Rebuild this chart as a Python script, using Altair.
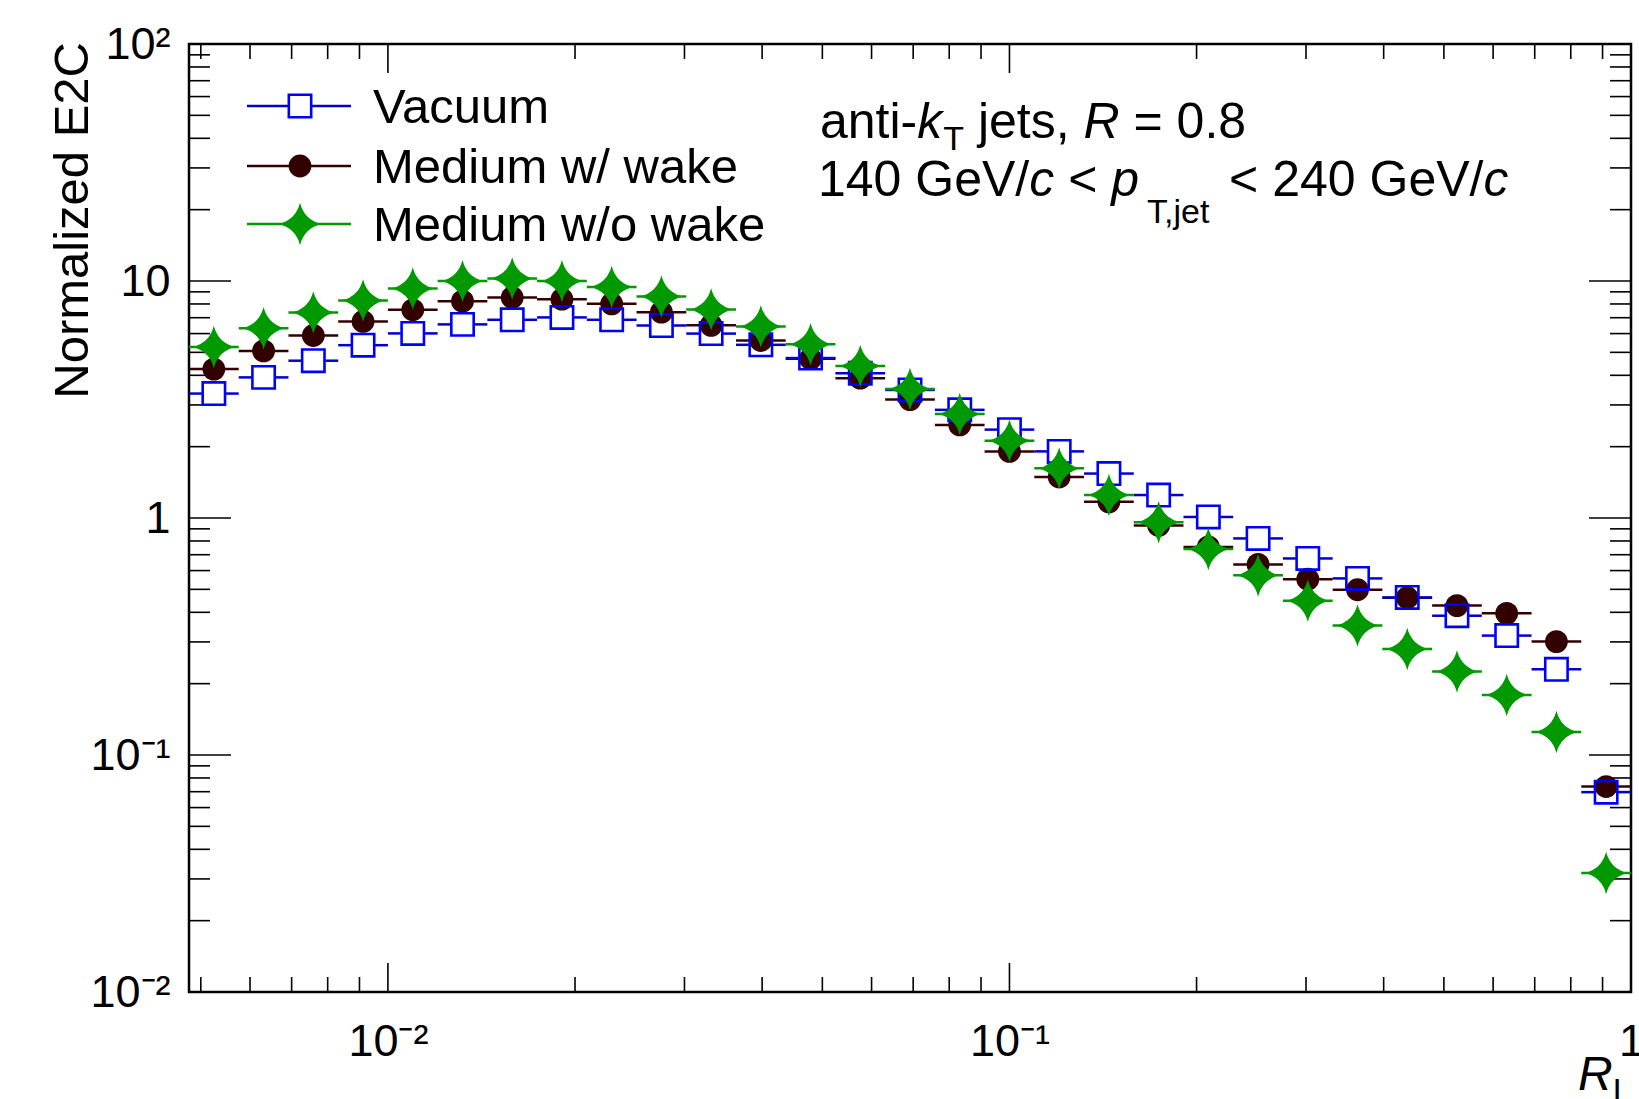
import math
import altair as alt
import pandas as pd

# ---------------- data ----------------
bin_edges = [0.004786, 0.005754, 0.006918, 0.008318, 0.01, 0.012023, 0.014454,
             0.017378, 0.020893, 0.025119, 0.030200, 0.036308, 0.043652, 0.052481,
             0.063096, 0.075858, 0.091201, 0.10965, 0.13183, 0.15849, 0.19055,
             0.22909, 0.27542, 0.33113, 0.39811, 0.47863, 0.57544, 0.69183,
             0.83176, 1.0]

vacuum = [3.35, 3.92, 4.61, 5.36, 6.01, 6.56, 6.86, 7.02, 6.86, 6.49, 6.0, 5.38,
          4.73, 4.08, 3.47, 2.86, 2.36, 1.91, 1.54, 1.25, 1.01, 0.82, 0.675,
          0.556, 0.462, 0.387, 0.319, 0.230, 0.0697]
wake = [4.25, 5.07, 5.89, 6.75, 7.56, 8.22, 8.52, 8.38, 8.01, 7.39, 6.5, 5.61,
        4.70, 3.89, 3.16, 2.47, 1.91, 1.49, 1.17, 0.93, 0.755, 0.637, 0.552,
        0.498, 0.461, 0.427, 0.396, 0.301, 0.0736]
nowake = [5.27, 6.32, 7.37, 8.28, 9.29, 9.99, 10.25, 9.99, 9.44, 8.60, 7.58,
          6.43, 5.41, 4.38, 3.50, 2.75, 2.12, 1.62, 1.25, 0.96, 0.74, 0.573,
          0.448, 0.352, 0.280, 0.225, 0.179, 0.125, 0.0318]

series_names = ["Vacuum", "Medium w/ wake", "Medium w/o wake"]

y_major = [0.01, 0.1, 1, 10, 100]
y_minor = [m * d for d in [0.01, 0.1, 1, 10] for m in range(2, 10)]
x_major = [0.01, 0.1, 1]
x_minor = [0.005, 0.006, 0.007, 0.008, 0.009,
           0.02, 0.03, 0.04, 0.05, 0.06, 0.07, 0.08, 0.09,
           0.2, 0.3, 0.4, 0.5, 0.6, 0.7, 0.8, 0.9]

# ---------------- styling ----------------
FONT = "Liberation Sans"
W, H = 1442, 948
BLUE, BLUE_LINE = "#0000ff", "#0000cc"
BROWN = "#330000"
GREEN = "#009900"
STAR = "M0,-1 Q0.2,-0.2 1,0 Q0.2,0.2 0,1 Q-0.2,0.2 -1,0 Q-0.2,-0.2 0,-1 Z"
STAR_SIZE = 1800

rows = []
for name, vals in zip(series_names, [vacuum, wake, nowake]):
    for i, v in enumerate(vals):
        lo, hi = bin_edges[i], bin_edges[i + 1]
        rows.append({"series": name, "lo": lo, "hi": hi,
                     "xc": math.sqrt(lo * hi), "y": v})
df = pd.DataFrame(rows)

xs = alt.Scale(type="log", domain=[bin_edges[0], bin_edges[-1]], nice=False)
ys = alt.Scale(type="log", domain=[0.01, 100], nice=False)

x_axis = alt.Axis(values=x_major, grid=False, ticks=False, domain=False, title=None,
                  labelFont=FONT, labelFontSize=45, labelColor="black",
                  labelPadding=27, labelFlush=False, labelOverlap=False,
                  labelExpr="datum.value < 0.05 ? '10⁻²' : datum.value < 0.5 ? '10⁻¹' : '1'")
y_axis = alt.Axis(values=y_major, grid=False, ticks=False, domain=False, title=None,
                  labelFont=FONT, labelFontSize=45, labelColor="black",
                  labelPadding=19, labelFlush=False, labelOverlap=False,
                  labelExpr="datum.value > 50 ? '10²' : datum.value > 5 ? '10' : datum.value > 0.5 ? '1' : datum.value > 0.05 ? '10⁻¹' : '10⁻²'")


def X(f):
    return alt.X(f"{f}:Q", scale=xs, axis=x_axis, title=None)


def Yf(f):
    return alt.Y(f"{f}:Q", scale=ys, axis=y_axis, title=None)


Y = Yf("y")

base = alt.Chart(df)


def sel(name):
    return base.transform_filter(alt.datum.series == name)


wake_line = sel("Medium w/ wake").mark_rule(color=BROWN, strokeWidth=2.5).encode(
    x=X("lo"), x2="hi:Q", y=Y)
wake_pts = sel("Medium w/ wake").mark_point(shape="circle", filled=True, color=BROWN,
                                            size=520, opacity=1).encode(x=X("xc"), y=Y)

vac_l1 = sel("Vacuum").mark_rule(color=BLUE_LINE, strokeWidth=2.5, x2Offset=-12).encode(
    x=X("lo"), x2="xc:Q", y=Y)
vac_l2 = sel("Vacuum").mark_rule(color=BLUE_LINE, strokeWidth=2.5, xOffset=12).encode(
    x=X("xc"), x2="hi:Q", y=Y)
vac_pts = sel("Vacuum").mark_point(shape="square", filled=False, stroke=BLUE,
                                   strokeWidth=2.6, size=500, opacity=1).encode(x=X("xc"), y=Y)

star_line = sel("Medium w/o wake").mark_rule(color=GREEN, strokeWidth=2.5).encode(
    x=X("lo"), x2="hi:Q", y=Y)
star_pts = sel("Medium w/o wake").mark_point(shape=STAR, filled=True, color=GREEN,
                                             size=STAR_SIZE, opacity=1).encode(x=X("xc"), y=Y)


# ---------------- inward ticks (ROOT style) ----------------
def xticks(vals, length):
    d = alt.Chart(pd.DataFrame({"v": vals}))
    bot = d.mark_rule(color="black", strokeWidth=1.6).encode(
        x=X("v"), y=alt.value(H), y2=alt.value(H - length))
    top = d.mark_rule(color="black", strokeWidth=1.6).encode(
        x=X("v"), y=alt.value(0), y2=alt.value(length))
    return [bot, top]


def yticks(vals, length):
    d = alt.Chart(pd.DataFrame({"v": vals}))
    left = d.mark_rule(color="black", strokeWidth=1.6).encode(
        y=Yf("v"), x=alt.value(0), x2=alt.value(length))
    right = d.mark_rule(color="black", strokeWidth=1.6).encode(
        y=Yf("v"), x=alt.value(W - length), x2=alt.value(W))
    return [left, right]


tick_layers = xticks(x_major, 29) + xticks(x_minor, 15) + yticks(y_major, 42) + yticks(y_minor, 21)

# ---------------- text helpers ----------------
one = alt.Chart(pd.DataFrame({"k": [0]}))
AW = {' ': 278, 'a': 556, 'n': 556, 't': 278, 'i': 222, '-': 333, 'k': 500, 'T': 611,
      'j': 222, 'e': 556, 's': 500, ',': 278, 'R': 722, '=': 584, '0': 556, '.': 278,
      '8': 556, '1': 556, '4': 556, '2': 556, 'G': 778, 'V': 667, '/': 278, 'c': 500,
      '<': 584, 'p': 556, 'L': 556}


def tw(s, fs):
    return sum(AW.get(ch, 556) for ch in s) * fs / 1000.0


def text_line(pieces, x0, y0):
    out = []
    x = x0
    for txt, style, fs, dy, gap in pieces:
        x += gap
        lead = len(txt) - len(txt.lstrip(" "))
        shown = txt.strip(" ")
        out.append(one.mark_text(text=shown, font=FONT, fontSize=fs, fontStyle=style,
                                 align="left", baseline="alphabetic", color="black").encode(
            x=alt.value(x + tw(" " * lead, fs)), y=alt.value(y0 + dy)))
        x += tw(txt, fs)
    return out


FS = 50
SUB = 34
ann = []
ann += text_line([("anti-", "normal", FS, 0, 0), ("k", "italic", FS, 0, 0),
                  ("T", "normal", SUB, 12, 1), (" jets, ", "normal", FS, 0, 0),
                  ("R", "italic", FS, 0, 0), (" = 0.8", "normal", FS, 0, 0)], 631, 94)
ann += text_line([("140 GeV/", "normal", FS, 0, 0), ("c", "italic", FS, 0, 0),
                  (" < ", "normal", FS, 0, 0), ("p", "italic", FS, 0, 0),
                  ("T,jet", "normal", SUB, 27, 8), (" < 240 GeV/", "normal", FS, 0, 2),
                  ("c", "italic", FS, 0, 0)], 629, 152)

# axis titles
ann.append(one.mark_text(text="Normalized E2C", font=FONT, fontSize=49, angle=270,
                         align="right", baseline="middle", color="black").encode(
    x=alt.value(-116), y=alt.value(-2)))
ann += text_line([("R", "italic", 48, 0, 0), ("L", "normal", SUB, 12, 0)], 1389, 1046)

# ---------------- legend (ROOT style) ----------------
LFS = 49
leg_rows = [62, 122, 180]
leg = []
kinds = ["square", "circle", "star"]
for name, yy, kind in zip(series_names, leg_rows, kinds):
    if kind == "square":
        leg.append(one.mark_rule(color=BLUE_LINE, strokeWidth=2.5).encode(
            x=alt.value(58), x2=alt.value(99), y=alt.value(yy)))
        leg.append(one.mark_rule(color=BLUE_LINE, strokeWidth=2.5).encode(
            x=alt.value(123), x2=alt.value(162), y=alt.value(yy)))
        leg.append(one.mark_point(shape="square", filled=False, stroke=BLUE, strokeWidth=2.6,
                                  size=500, opacity=1).encode(x=alt.value(111), y=alt.value(yy)))
    elif kind == "circle":
        leg.append(one.mark_rule(color=BROWN, strokeWidth=2.5).encode(
            x=alt.value(58), x2=alt.value(162), y=alt.value(yy)))
        leg.append(one.mark_point(shape="circle", filled=True, color=BROWN, size=520,
                                  opacity=1).encode(x=alt.value(111), y=alt.value(yy)))
    else:
        leg.append(one.mark_rule(color=GREEN, strokeWidth=2.5).encode(
            x=alt.value(58), x2=alt.value(162), y=alt.value(yy)))
        leg.append(one.mark_point(shape=STAR, filled=True, color=GREEN, size=STAR_SIZE,
                                  opacity=1).encode(x=alt.value(111), y=alt.value(yy)))
    leg.append(one.mark_text(text=name, font=FONT, fontSize=LFS, align="left",
                             baseline="alphabetic", color="black").encode(
        x=alt.value(184), y=alt.value(yy + 17)))

chart = alt.layer(
    wake_line, *tick_layers,
    wake_pts, vac_l1, vac_l2, vac_pts, star_line, star_pts,
    *ann, *leg
).properties(
    width=W, height=H,
    autosize=alt.AutoSizeParams(type="none"),
    padding={"left": 189, "top": 44, "right": 8, "bottom": 107},
    background="white",
).configure_view(stroke="black", strokeWidth=2.5)

chart.save("out.html", embed_options={"renderer": "svg", "actions": False})
